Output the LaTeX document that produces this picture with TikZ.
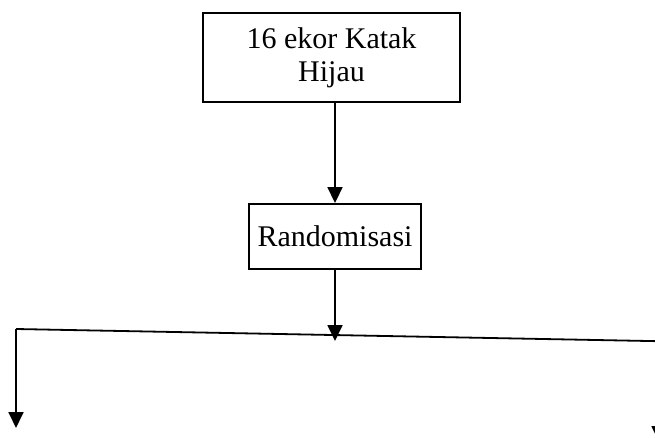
\documentclass[tikz,border=0pt]{standalone}
\usepackage{fontspec}
\setmainfont{Liberation Serif}
\usetikzlibrary{arrows.meta}
\tikzset{
  flowbox/.style={draw, line width=1.9pt, align=center, inner sep=0pt,
    font=\fontsize{30}{33}\selectfont},
  flowline/.style={line width=1.8pt},
  flowarrow/.style={line width=1.8pt, -{Triangle[width=15pt,length=16pt]}}
}
\begin{document}
\begin{tikzpicture}[x=1pt,y=-1pt]
  \useasboundingbox (0,0) rectangle (655,438);
  \clip (0,0) rectangle (655,438);
  % boxes
  \node[flowbox, minimum width=257pt, minimum height=89pt] (frogs) at (331.5,57.5) {16 ekor Katak\\Hijau};
  \node[flowbox, minimum width=172pt, minimum height=65pt] (rand) at (335,236.5) {Randomisasi};
  % branch points
  \coordinate (lc) at (16,329);
  \coordinate (mid) at (335,341);
  \coordinate (rc) at (659,341.2);
  \coordinate (lend) at (16,428);
  \coordinate (rend) at (659,442);
  % connectors
  \draw[flowarrow] (frogs.south -| rand.north) -- (rand.north);
  \draw[flowarrow] (rand.south) -- (mid);
  \draw[flowline] (lc) -- (rc);
  \draw[flowarrow] (lc) -- (lend);
  \draw[flowarrow] (rc) -- (rend);
\end{tikzpicture}
\end{document}
